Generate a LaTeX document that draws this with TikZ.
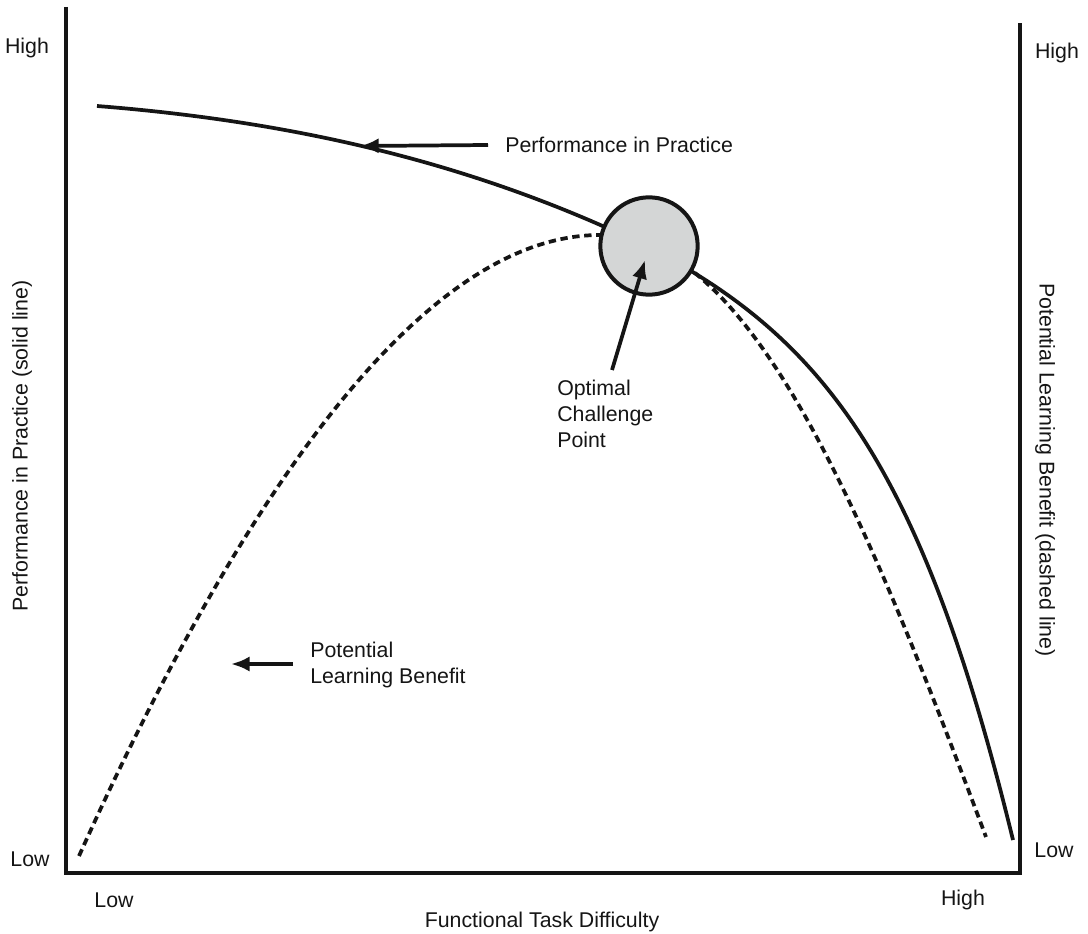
\documentclass[tikz,border=0pt]{standalone}
\usepackage{fontspec}
\setmainfont{Liberation Sans}
\usetikzlibrary{positioning,arrows.meta}
\definecolor{chartink}{HTML}{151515}
\definecolor{pointgray}{HTML}{D4D6D6}

\begin{document}
\begin{tikzpicture}[x=0.75pt, y=-0.75pt,
  axisline/.style={draw=chartink, line width=3.2pt, line join=miter},
  perfcurve/.style={draw=chartink, line width=2.8pt},
  gaincurve/.style={draw=chartink, line width=2.8pt, dash pattern=on 5.5pt off 3.5pt},
  pointer/.style={-{Latex[length=14pt,width=11.5pt]}, draw=chartink, line width=2.8pt},
  lbl/.style={font=\fontsize{16}{19.5}\selectfont, text=chartink, inner sep=0pt},
  lbltext/.style={lbl, align=left},
  optpoint/.style={circle, draw=chartink, line width=3pt, fill=pointgray, minimum size=73pt, inner sep=0pt}
]
  \useasboundingbox (0,0) rectangle (1088,934);

  % axes
  \draw[axisline] (66,7) -- (66,873) -- (1020,873) -- (1020,23);

  % scale labels
  \node[lbl] (lhigh) at (27,48) {High};
  \node[lbl] (llow) at (30,859) {Low};
  \node[lbl] (rhigh) at (1057,53) {High};
  \node[lbl] (rlow) at (1054,850) {Low};
  \node[lbl] (blow) at (114,900) {Low};
  \node[lbl] (bhigh) at (963,900) {High};
  \node[lbl] (xlab) at (542,922) {Functional Task Difficulty};
  \node[lbl, rotate=90] (ylab) at (22,446) {Performance in Practice (solid line)};
  \node[lbl, rotate=-90] (y2lab) at (1045,470) {Potential Learning Benefit (dashed line)};

  % curves
  \draw[gaincurve] (79,856) .. controls (210,565) and (400,235) .. (600,235)
    .. controls (750,235) and (863,508) .. (986,837);
  \draw[perfcurve] (97,106) .. controls (300,122) and (480,165) .. (650,248)
    .. controls (827,340) and (923,471) .. (1013,840);

  \node[optpoint] (ocp) at (649,246) {};

  % callouts
  \node[lbl, anchor=west] (perf) at (505,145) {Performance in Practice};
  \coordinate (perftail) at (488,145);
  \coordinate (perftip) at (360,146);
  \draw[pointer] (perftail) -- (perftip);

  \node[lbltext, anchor=west] (pot) at (310,665) {Potential\\Learning Benefit};
  \coordinate (pottail) at (293,664);
  \coordinate (pottip) at (231,664);
  \draw[pointer] (pottail) -- (pottip);

  \node[lbltext, anchor=north west] (opt) at (557,380) {Optimal\\Challenge\\Point};
  \coordinate (opttail) at (612,370);
  \coordinate (opttip) at (645,260);
  \draw[pointer] (opttail) -- (opttip);
\end{tikzpicture}
\end{document}
